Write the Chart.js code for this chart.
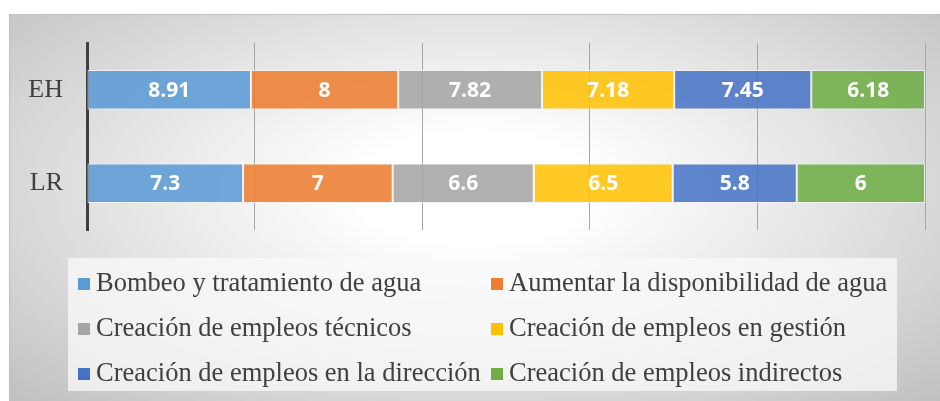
<!DOCTYPE html>
<html>
<head>
<meta charset="utf-8">
<script src="https://cdn.jsdelivr.net/npm/chart.js@4/dist/chart.umd.min.js"></script>
<style>
  html, body { margin: 0; padding: 0; background: #fff; }
  body { width: 940px; height: 401px; position: relative; overflow: hidden; }
  #frame {
    position: absolute; left: 9px; top: 14px; width: 931px; height: 387px;
    border-top: 1px solid #bfbfbf; border-left: 1px solid #bfbfbf; box-sizing: border-box;
    background: radial-gradient(ellipse farthest-corner at 50% 45%, #ffffff 18%, #e4e4e4 55%, #c0c0c0 100%);
  }
  #chart-wrap { position: absolute; left: 0; top: 0; width: 930px; height: 250px; }
  #legend {
    position: absolute; left: 58px; top: 243px; width: 829px; height: 133px;
    background: rgba(250,250,250,0.75);
    font-family: 'Liberation Serif', 'Times New Roman', serif; font-size: 26.5px; color: #404040;
  }
  .item { position: absolute; height: 45px; line-height: 45px; white-space: nowrap; }
  .item i { display: inline-block; width: 12px; height: 12px; margin-right: 6px; vertical-align: 1px; }
</style>
</head>
<body>
<div id="frame">
  <div id="chart-wrap"><canvas id="chart"></canvas></div>
  <div id="legend"></div>
</div>
<script>
const categories = ['EH', 'LR'];
const seriesNames = [
  'Bombeo y tratamiento de agua',
  'Aumentar la disponibilidad de agua',
  'Creación de empleos técnicos',
  'Creación de empleos en gestión',
  'Creación de empleos en la dirección',
  'Creación de empleos indirectos',
];
const bombeo = [8.91, 7.3];
const aumentar = [8, 7];
const tecnicos = [7.82, 6.6];
const gestion = [7.18, 6.5];
const direccion = [7.45, 5.8];
const indirectos = [6.18, 6];
const xTicks = [0, 20, 40, 60, 80, 100];

const seriesValues = [bombeo, aumentar, tecnicos, gestion, direccion, indirectos];
const colors = ['#5b9bd5', '#ed7d31', '#a5a5a5', '#ffc000', '#4472c4', '#70ad47'];
const fills = ['rgba(91,155,213,0.88)', 'rgba(237,125,49,0.88)', 'rgba(165,165,165,0.88)',
  'rgba(255,192,0,0.85)', 'rgba(68,114,196,0.85)', 'rgba(112,173,71,0.88)'];

// 100% stacked: share of each category total
const totals = categories.map((_, i) => seriesValues.reduce((s, arr) => s + arr[i], 0));

const labelPlugin = {
  id: 'segmentLabels',
  afterDatasetsDraw(chart) {
    const ctx = chart.ctx;
    ctx.save();
    ctx.fillStyle = '#ffffff';
    ctx.font = "bold 21px 'Open Sans', sans-serif";
    ctx.textAlign = 'center';
    ctx.textBaseline = 'middle';
    chart.data.datasets.forEach((ds, di) => {
      chart.getDatasetMeta(di).data.forEach((bar, i) => {
        const cx = (bar.x + bar.base) / 2;
        ctx.fillText(String(ds.raw[i]), cx, bar.y + 1);
      });
    });
    ctx.restore();
  },
};

new Chart(document.getElementById('chart'), {
  type: 'bar',
  data: {
    labels: categories,
    datasets: seriesValues.map((vals, k) => ({
      label: seriesNames[k],
      raw: vals,
      data: vals.map((v, i) => (v / totals[i]) * 100),
      backgroundColor: fills[k],
      borderColor: 'rgba(242,242,242,0.9)',
      borderWidth: 1,
      borderSkipped: false,
      categoryPercentage: 1,
      barPercentage: 0.42,
    })),
  },
  options: {
    indexAxis: 'y',
    responsive: true,
    maintainAspectRatio: false,
    animation: false,
    layout: { padding: { top: 28, right: 15, bottom: 35, left: 0 } },
    plugins: { legend: { display: false }, tooltip: { enabled: false } },
    scales: {
      x: {
        stacked: true,
        min: 0,
        max: 100,
        afterBuildTicks: (scale) => { scale.ticks = xTicks.map((v) => ({ value: v })); },
        ticks: { display: false },
        grid: { color: '#a6a6a6', lineWidth: 1, drawTicks: false },
        border: { display: false },
      },
      y: {
        stacked: true,
        afterFit: (scale) => {
          scale.width = 77;
          scale.paddingTop = 0;
          scale.paddingBottom = 0;
        },
        ticks: {
          color: '#404040',
          padding: 24,
          font: { family: "'Liberation Serif', 'Times New Roman', serif", size: 26 },
        },
        grid: { display: false, drawTicks: false },
        border: { display: true, color: '#404040', width: 3 },
      },
    },
  },
  plugins: [labelPlugin],
});

// legend, two columns
const legend = document.getElementById('legend');
const colX = [10, 423];
seriesNames.forEach((name, k) => {
  const el = document.createElement('div');
  el.className = 'item';
  el.style.left = colX[k % 2] + 'px';
  el.style.top = (Math.floor(k / 2) * 45 + 2) + 'px';
  el.innerHTML = '<i style="background:' + colors[k] + '"></i>' + name;
  legend.appendChild(el);
});
</script>
</body>
</html>
